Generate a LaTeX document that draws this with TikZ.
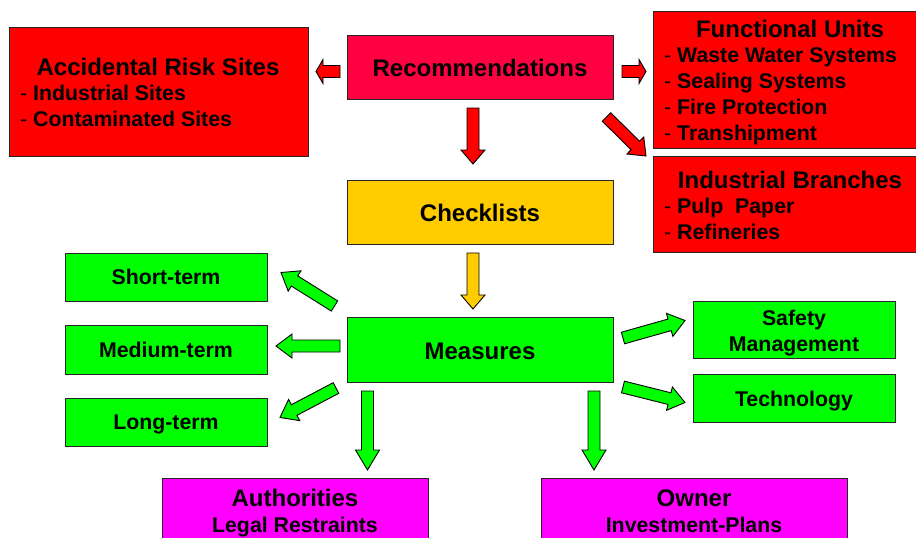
\documentclass[tikz,border=0pt]{standalone}
\usepackage{fontspec}
\setmainfont{Liberation Sans}
\usetikzlibrary{calc}
\definecolor{recred}{RGB}{255,0,64}
\definecolor{sitered}{RGB}{255,0,0}
\definecolor{checkgold}{RGB}{255,204,0}
\definecolor{measgreen}{RGB}{0,255,0}
\definecolor{ownpink}{RGB}{255,0,255}
\tikzset{
  panel/.style={draw=black!85, line width=1pt, anchor=north west, inner sep=0pt},
  heading/.style={inner sep=0pt, anchor=base, yshift=-8.5pt, font=\fontsize{24}{28}\selectfont\bfseries},
  item/.style={inner sep=0pt, anchor=base, yshift=-7.5pt, font=\fontsize{21.3}{25}\selectfont\bfseries},
  fatarrow/.style={draw=black, line width=0.9pt, line join=miter}
}
\newcommand{\panel}[6]{\node[panel, fill=#6, minimum width=#4pt, minimum height=#5pt] (#1) at (#2,#3) {};}
\newcommand{\heading}[4]{\node[heading] (#1) at (#2,#3) {#4};}
\newcommand{\lablitem}[4]{\node[item] (#1) at (#2,#3) {#4};}
\newcommand{\listitem}[4]{\node[item, anchor=base west] (#1) at (#2,#3) {\textmd{-} #4};}
% block arrow: [head length]{fill}{tail}{tip}
\newcommand{\blockarrow}[4][16]{
  \coordinate (ba-s) at #3;
  \coordinate (ba-e) at #4;
  \coordinate (ba-n) at ($(ba-e)!#1pt!(ba-s)$);
  \draw[fatarrow, fill=#2] ($(ba-s)!6pt!90:(ba-e)$) -- ($(ba-n)!6pt!90:(ba-e)$)
    -- ($(ba-n)!12pt!90:(ba-e)$) -- (ba-e) -- ($(ba-n)!12pt!-90:(ba-e)$)
    -- ($(ba-n)!6pt!-90:(ba-e)$) -- ($(ba-s)!6pt!-90:(ba-e)$) -- cycle;
}

\begin{document}
\begin{tikzpicture}[x=1pt, y=-1pt]
        \useasboundingbox (0,0) rectangle (916,538);

        % top row
        \panel{ars}{9}{27}{299}{129}{sitered}
        \panel{rec}{347}{35}{266}{64}{recred}
        \panel{fu}{653}{11}{266}{137}{sitered}
        \panel{ib}{653}{156}{266}{96}{sitered}
        % checklists and measures
        \panel{chk}{347}{180}{266}{64}{checkgold}
        \panel{meas}{347}{317}{266}{65}{measgreen}
        % terms
        \panel{st}{65}{253}{202}{48}{measgreen}
        \panel{mt}{65}{325}{202}{49}{measgreen}
        \panel{lt}{65}{398}{202}{48}{measgreen}
        % right side
        \panel{sm}{693}{301}{202}{57}{measgreen}
        \panel{tech}{693}{374}{202}{48}{measgreen}
        % bottom row
        \panel{auth}{162}{478}{266}{70}{ownpink}
        \panel{own}{541}{478}{306}{70}{ownpink}

        % labels top row
        \heading{arsT}{158}{67}{Accidental Risk Sites}
        \listitem{ars1}{20}{93}{Industrial Sites}
        \listitem{ars2}{20}{119}{Contaminated Sites}
        \heading{recT}{480}{68}{Recommendations}
        \heading{fuT}{790}{29}{Functional Units}
        \listitem{fu1}{664}{55}{Waste Water Systems}
        \listitem{fu2}{664}{81}{Sealing Systems}
        \listitem{fu3}{664}{107}{Fire Protection}
        \listitem{fu4}{664}{133}{Transhipment}
        \heading{ibT}{790}{180}{Industrial Branches}
        \listitem{ib1}{664}{206}{Pulp\ \ Paper}
        \listitem{ib2}{664}{232}{Refineries}

        % labels middle
        \heading{chkT}{480}{213}{Checklists}
        \heading{measT}{480}{351}{Measures}
        \lablitem{stT}{166}{277}{Short-term}
        \lablitem{mtT}{166}{350}{Medium-term}
        \lablitem{ltT}{166}{422}{Long-term}
        \lablitem{smT}{794}{318}{Safety}
        \lablitem{smB}{794}{344}{Management}
        \lablitem{techT}{794}{399}{Technology}

        % labels bottom
        \heading{authT}{295}{498}{Authorities}
        \lablitem{authB}{295}{525}{Legal Restraints}
        \heading{ownT}{694}{498}{Owner}
        \lablitem{ownB}{694}{525}{Investment-Plans}

        % arrows from recommendations
        \blockarrow[7]{sitered}{($(rec.west)+(-7,4)$)}{($(ars.east |- rec.west)+(7,4)$)}
        \blockarrow[7]{sitered}{($(rec.east)+(8,4)$)}{($(fu.west |- rec.east)+(-7,4)$)}
        \blockarrow[14]{sitered}{($(rec.south)+(-7.5,8)$)}{($(chk.north)+(-7.5,-16)$)}
        \blockarrow[15]{sitered}{($(rec.south east)+(-7.5,17)$)}{($(ib.north west)+(-7,0)$)}
        \blockarrow[14]{checkgold}{($(chk.south)+(-7.5,8)$)}{($(meas.north)+(-7.5,-8)$)}

        % arrows from measures
        \blockarrow{measgreen}{($(meas.north west)+(-12.5,-11)$)}{($(st.east)+(13,-5)$)}
        \blockarrow{measgreen}{($(meas.west)+(-7,-4)$)}{($(mt.east |- meas.west)+(8,-4)$)}
        \blockarrow{measgreen}{($(meas.south west)+(-11,5)$)}{($(lt.east)+(12,-5)$)}
        \blockarrow[20]{measgreen}{($(meas.south west)+(20.5,8)$)}{($(meas.south west |- auth.north)+(20.5,-8)$)}
        \blockarrow[20]{measgreen}{($(meas.south east)+(-20,8)$)}{($(meas.south east |- own.north)+(-20,-8)$)}
        \blockarrow{measgreen}{($(meas.east)+(9,-12)$)}{($(sm.west)+(-8,-9.5)$)}
        \blockarrow{measgreen}{($(meas.east)+(9,37)$)}{($(tech.west)+(-8,4)$)}
\end{tikzpicture}
\end{document}
